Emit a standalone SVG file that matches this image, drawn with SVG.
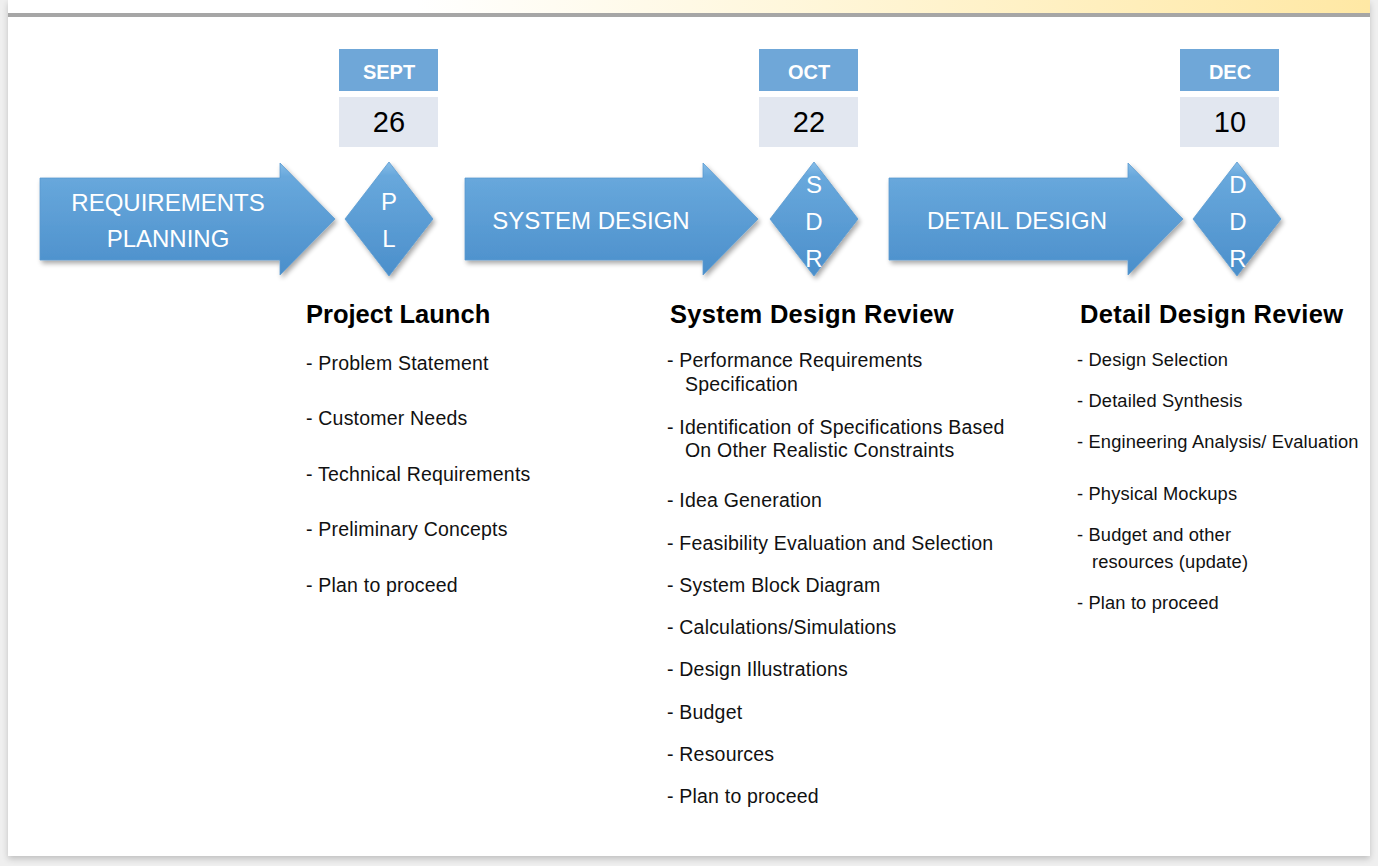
<svg xmlns="http://www.w3.org/2000/svg" width="1378" height="866" viewBox="0 0 1378 866">
<defs>
<linearGradient id="band" x1="0" y1="0" x2="1" y2="0">
<stop offset="0" stop-color="#ffffff"/>
<stop offset="0.3" stop-color="#ffffff"/>
<stop offset="0.6" stop-color="#fff6d8"/>
<stop offset="1" stop-color="#ffe8a4"/>
</linearGradient>
<linearGradient id="blue" x1="0" y1="0" x2="0" y2="1">
<stop offset="0" stop-color="#86bde8"/>
<stop offset="0.12" stop-color="#68a8dc"/>
<stop offset="1" stop-color="#4b8fcb"/>
</linearGradient>
<filter id="sh" x="-10%" y="-10%" width="125%" height="130%">
<feGaussianBlur in="SourceAlpha" stdDeviation="2.5"/>
<feOffset dx="2" dy="3" result="b"/>
<feComponentTransfer><feFuncA type="linear" slope="0.35"/></feComponentTransfer>
<feMerge><feMergeNode/><feMergeNode in="SourceGraphic"/></feMerge>
</filter>
<filter id="cardsh" x="-2%" y="-2%" width="104%" height="104%">
<feGaussianBlur in="SourceAlpha" stdDeviation="3"/>
<feOffset dx="0" dy="3"/>
<feComponentTransfer><feFuncA type="linear" slope="0.2"/></feComponentTransfer>
<feMerge><feMergeNode/><feMergeNode in="SourceGraphic"/></feMerge>
</filter>
</defs>
<style>
.shape{fill:url(#blue);stroke:#5a9bd0;stroke-width:0.8;filter:url(#sh)}
.atxt{font-family:"Liberation Sans",Arial,sans-serif;font-size:24px;fill:#ffffff;text-anchor:middle}
.dtxt{font-family:"Liberation Sans",Arial,sans-serif;font-size:24px;fill:#ffffff;text-anchor:middle}
.mon{fill:#6fa7d8}
.day{fill:#e2e7f0}
.montxt{font-family:"Liberation Sans",Arial,sans-serif;font-size:20px;font-weight:bold;fill:#ffffff;text-anchor:middle}
.daytxt{font-family:"Liberation Sans",Arial,sans-serif;font-size:29px;fill:#000000;text-anchor:middle}
.head{font-family:"Liberation Sans",Arial,sans-serif;font-size:25.5px;font-weight:bold;fill:#000000}
.item{font-family:"Liberation Sans",Arial,sans-serif;font-size:19.5px;letter-spacing:0.2px;fill:#111111}
.item3{font-family:"Liberation Sans",Arial,sans-serif;font-size:18.3px;letter-spacing:0.15px;fill:#111111}
</style>
<rect x="0" y="0" width="1378" height="866" fill="#efefef"/>
<rect x="8" y="0" width="1362" height="856" fill="#ffffff" filter="url(#cardsh)"/>
<rect x="8" y="0" width="1362" height="13" fill="url(#band)"/>
<rect x="8" y="13" width="1362" height="4" fill="#a6a6a6"/>

<g id="connectors"></g>

<g id="arrow-requirements">
<path class="shape" d="M40,178 L280,178 L280,163 L335,219 L280,275 L280,260 L40,260 Z"/>
<text class="atxt" x="168" y="211">REQUIREMENTS</text>
<text class="atxt" x="168" y="247">PLANNING</text>
</g>
<g id="milestone-pl">
<path class="shape" d="M389,162 L433,219 L389,276 L345,219 Z"/>
<text class="dtxt" x="389" y="210">P</text>
<text class="dtxt" x="389" y="247">L</text>
</g>
<g id="date-sept">
<rect class="mon" x="339" y="49" width="99" height="42"/>
<text class="montxt" x="389" y="79">SEPT</text>
<rect class="day" x="339" y="97" width="99" height="50"/>
<text class="daytxt" x="389" y="132">26</text>
</g>

<g id="arrow-system">
<path class="shape" d="M465,178 L703,178 L703,163 L758,219 L703,275 L703,260 L465,260 Z"/>
<text class="atxt" x="591" y="229">SYSTEM DESIGN</text>
</g>
<g id="milestone-sdr">
<path class="shape" d="M814,162 L858,219 L814,276 L770,219 Z"/>
<text class="dtxt" x="814" y="193">S</text>
<text class="dtxt" x="814" y="230">D</text>
<text class="dtxt" x="814" y="267">R</text>
</g>
<g id="date-oct">
<rect class="mon" x="759" y="49" width="99" height="42"/>
<text class="montxt" x="809" y="79">OCT</text>
<rect class="day" x="759" y="97" width="99" height="50"/>
<text class="daytxt" x="809" y="132">22</text>
</g>

<g id="arrow-detail">
<path class="shape" d="M889,178 L1128,178 L1128,163 L1183,219 L1128,275 L1128,260 L889,260 Z"/>
<text class="atxt" x="1017" y="229">DETAIL DESIGN</text>
</g>
<g id="milestone-ddr">
<path class="shape" d="M1237,162 L1281,219 L1237,276 L1193,219 Z"/>
<text class="dtxt" x="1238" y="193">D</text>
<text class="dtxt" x="1238" y="230">D</text>
<text class="dtxt" x="1238" y="267">R</text>
</g>
<g id="date-dec">
<rect class="mon" x="1180" y="49" width="99" height="42"/>
<text class="montxt" x="1230" y="79">DEC</text>
<rect class="day" x="1180" y="97" width="99" height="50"/>
<text class="daytxt" x="1230" y="132">10</text>
</g>

<g id="list-project-launch">
<text class="head" x="306" y="323">Project Launch</text>
<text class="item" x="306" y="370">- Problem Statement</text>
<text class="item" x="306" y="425">- Customer Needs</text>
<text class="item" x="306" y="481">- Technical Requirements</text>
<text class="item" x="306" y="536">- Preliminary Concepts</text>
<text class="item" x="306" y="592">- Plan to proceed</text>
</g>

<g id="list-system-design-review">
<text class="head" x="670" y="323" style="letter-spacing:0.3px">System Design Review</text>
<text class="item" x="667" y="367">- Performance Requirements</text>
<text class="item" x="685" y="391">Specification</text>
<text class="item" x="667" y="434">- Identification of  Specifications Based</text>
<text class="item" x="685" y="457">On Other Realistic Constraints</text>
<text class="item" x="667" y="507">- Idea Generation</text>
<text class="item" x="667" y="550">- Feasibility Evaluation and Selection</text>
<text class="item" x="667" y="592">- System Block Diagram</text>
<text class="item" x="667" y="634">- Calculations/Simulations</text>
<text class="item" x="667" y="676">- Design Illustrations</text>
<text class="item" x="667" y="719">- Budget</text>
<text class="item" x="667" y="761">- Resources</text>
<text class="item" x="667" y="803">- Plan to proceed</text>
</g>

<g id="list-detail-design-review">
<text class="head" x="1080" y="323" style="letter-spacing:0.35px">Detail Design Review</text>
<text class="item3" x="1077" y="366">- Design Selection</text>
<text class="item3" x="1077" y="407">- Detailed Synthesis</text>
<text class="item3" x="1077" y="448">- Engineering Analysis/ Evaluation</text>
<text class="item3" x="1077" y="500">- Physical Mockups</text>
<text class="item3" x="1077" y="541">- Budget and other</text>
<text class="item3" x="1092" y="568">resources (update)</text>
<text class="item3" x="1077" y="609">- Plan to proceed</text>
</g>
</svg>
